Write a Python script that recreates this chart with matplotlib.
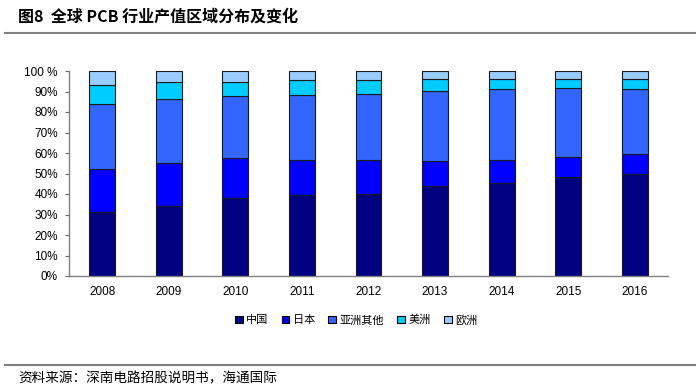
import matplotlib.pyplot as plt
from matplotlib.lines import Line2D
import numpy as np

plt.rcParams['font.family'] = ['Noto Sans CJK SC', 'DejaVu Sans']

# data (shares in %)
years = ["2008", "2009", "2010", "2011", "2012", "2013", "2014", "2015", "2016"]
china = [31.0, 34.3, 38.2, 39.3, 40.0, 43.9, 45.2, 48.5, 49.8]
japan = [21.3, 20.7, 19.2, 17.5, 16.8, 12.4, 11.6, 9.5, 9.6]
asia_other = [31.4, 31.3, 30.2, 31.5, 32.1, 33.8, 34.3, 33.5, 31.7]
americas = [9.3, 8.3, 6.9, 7.1, 6.5, 5.8, 4.8, 4.6, 5.0]
europe = [7.0, 5.4, 5.5, 4.6, 4.6, 4.1, 4.1, 3.9, 3.9]

series_names = ["中国", "日本", "亚洲其他", "美洲", "欧洲"]
series = [china, japan, asia_other, americas, europe]
colors = ["#000080", "#0000FF", "#3366FF", "#00CCFF", "#99CCFF"]

fig = plt.figure(figsize=(7.0, 3.88), dpi=100)
ax = fig.add_axes([69 / 700, 1 - 276 / 388, (668 - 69) / 700, 205 / 388])

x = np.arange(len(years))
bottom = np.zeros(len(years))
for name, vals, c in zip(series_names, series, colors):
    ax.bar(x, vals, width=0.39, bottom=bottom, color=c, edgecolor="#1a1a1a",
           linewidth=0.8, label=name)
    bottom += np.array(vals)

ax.set_xlim(-0.5, len(years) - 0.5)
ax.set_ylim(0, 100)
ax.set_yticks(np.arange(0, 101, 10))
ax.set_yticklabels([f"{v}%" if v < 100 else "100 %" for v in range(0, 101, 10)],
                   fontsize=8.5, family=['Liberation Sans', 'DejaVu Sans'])
ax.set_xticks(x)
ax.set_xticklabels(years, fontsize=8.5, family=['Liberation Sans', 'DejaVu Sans'])
ax.tick_params(axis='x', length=0, pad=7)
ax.tick_params(axis='y', length=3, width=0.8, color="#666666", pad=5)
for s in ["top", "right"]:
    ax.spines[s].set_visible(False)
for s in ["left", "bottom"]:
    ax.spines[s].set_color("#808080")
    ax.spines[s].set_linewidth(1.0)

handles = [plt.Rectangle((0, 0), 1, 1, facecolor=c, edgecolor="black", linewidth=0.8)
           for c in colors]
fig.legend(handles, series_names, loc="center", bbox_to_anchor=(356 / 700, 1 - 320 / 388),
           ncol=5, frameon=False, fontsize=8, handlelength=0.7, handleheight=0.7,
           handletextpad=0.3, columnspacing=1.2)

# title and source with rules
fig.text(18 / 700, 1 - 17 / 388, "图8  全球 PCB 行业产值区域分布及变化",
         fontsize=11.5, fontweight="bold", va="center", ha="left")
fig.add_artist(Line2D([5 / 700, 695 / 700], [1 - 33 / 388, 1 - 33 / 388],
                      color="#808080", linewidth=1.5))
fig.add_artist(Line2D([5 / 700, 695 / 700], [1 - 365 / 388, 1 - 365 / 388],
                      color="#808080", linewidth=1.5))
fig.text(18 / 700, 1 - 378 / 388, "资料来源：深南电路招股说明书，海通国际",
         fontsize=9.8, va="center", ha="left")

fig.savefig("out.png", dpi=100)
